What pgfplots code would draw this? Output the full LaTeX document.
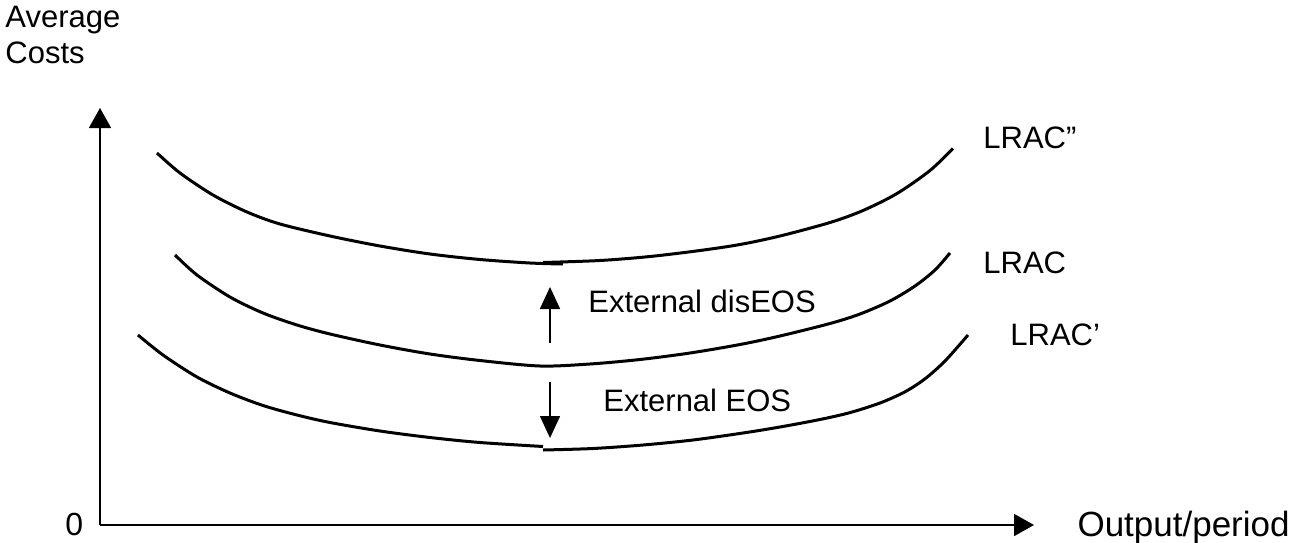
\documentclass[border=0pt]{standalone}
\usepackage{fontspec}
\setmainfont{Liberation Sans}
\usepackage{pgfplots}
\pgfplotsset{compat=1.18}
\usetikzlibrary{arrows.meta}
\newcommand\lf{\fontsize{15.5}{18}\selectfont}
\begin{document}
\begin{tikzpicture}
\begin{axis}[
  width=646pt, height=271pt, scale only axis,
  xmin=0, xmax=1292, ymin=0, ymax=542, y dir=reverse,
  hide axis, clip=false,
]
% axes
\addplot[line width=0.9pt, -{Triangle[length=10pt,width=11pt]}] coordinates {(100,525) (100,108)};
\addplot[line width=0.9pt, -{Triangle[length=10pt,width=11pt]}] coordinates {(100,525) (1034,525)};
% LRAC''
\addplot[smooth, line width=1.5pt] coordinates {(157,153) (180,173) (213,195) (247,212) (280,224) (330,236) (380,246) (430,254) (480,259.5) (530,263) (563,264)};
\addplot[smooth, line width=1.5pt] coordinates {(543,262.5) (600,260.5) (650,256.5) (700,250.5) (740,244.5) (780,236) (830,222.5) (863,210.5) (897,193.5) (930,170.5) (953,148.5)};
% LRAC
\addplot[smooth, line width=1.5pt] coordinates {(175,255) (197,275) (230,297) (263,313) (297,325) (330,334) (380,345) (430,354) (480,360.5) (540,366) (590,364) (640,359.5) (690,353) (740,344.5) (780,336) (830,323.5) (860,314) (890,301) (915,286) (935,270) (950,253)};
% LRAC'
\addplot[smooth, line width=1.5pt] coordinates {(138,335) (163,355) (197,377) (230,393) (263,405.5) (297,415) (330,422.5) (380,431) (430,437.5) (480,442.5) (543,446.5)};
\addplot[smooth, line width=1.5pt] coordinates {(543,450) (593,448.5) (643,445) (693,440) (743,433) (780,427) (820,419.5) (850,412.6) (880,403) (905,391.8) (925,378.8) (945,361) (968,335)};
% shift arrows
\addplot[line width=0.8pt, -{Triangle[length=11pt,width=10pt]}] coordinates {(550,343) (550,287)};
\addplot[line width=0.8pt, -{Triangle[length=11pt,width=10pt]}] coordinates {(550,382) (550,438)};
% labels
\node[inner sep=0pt, anchor=base west] at (axis cs:5,27) {\lf Average};
\node[inner sep=0pt, anchor=base west] at (axis cs:5,63) {\lf Costs};
\node[inner sep=0pt, anchor=base west] at (axis cs:65,535) {\fontsize{16}{19}\selectfont 0};
\node[inner sep=0pt, anchor=base east] at (axis cs:1290,536) {\fontsize{17.5}{20}\selectfont Output/period};
\node[inner sep=0pt, anchor=base west] at (axis cs:983,148) {\lf LRAC"};
\node[inner sep=0pt, anchor=base west] at (axis cs:983,273) {\lf LRAC};
\node[inner sep=0pt, anchor=base west] at (axis cs:1010,345) {\lf LRAC'};
\node[inner sep=0pt, anchor=base west] at (axis cs:588,312) {\lf External disEOS};
\node[inner sep=0pt, anchor=base west] at (axis cs:603,411) {\lf External EOS};
\end{axis}
\pgfresetboundingbox
\path (current axis.south west) rectangle (current axis.north east);
\end{tikzpicture}
\end{document}
